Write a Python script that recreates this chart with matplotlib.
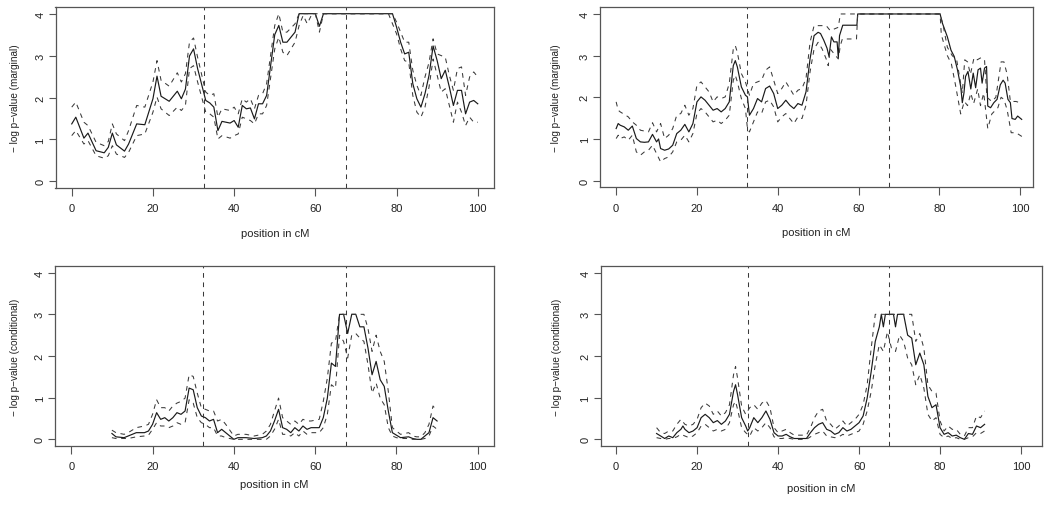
import matplotlib
matplotlib.use("Agg")
import matplotlib.pyplot as plt

plt.rcParams["font.family"] = ["Liberation Sans", "DejaVu Sans"]

# --- top left: marginal, 1 cM grid ---
x1 = [0, 1, 3, 4, 6, 8, 9, 10, 11, 13, 14, 16, 18, 20, 21, 22, 24, 26, 27, 28,
      29, 30, 31, 33, 34, 35, 36, 37, 39, 40, 41, 42, 43, 44, 45, 46, 47, 48, 50, 51,
      52, 53, 55, 56, 57, 58, 59, 60, 61, 62, 78, 79, 80, 81, 82, 83, 84, 85, 86, 87,
      88, 89, 90, 91, 92, 93, 94, 95, 96, 97, 98, 99, 100]
mid1 = [1.37, 1.53, 1.03, 1.15, 0.73, 0.68, 0.81, 1.15, 0.87, 0.72, 0.89, 1.37, 1.35, 1.97, 2.51, 2.03, 1.91, 2.15, 1.97, 2.2,
        2.99, 3.16, 2.69, 1.93, 1.87, 1.77, 1.21, 1.43, 1.39, 1.45, 1.29, 1.81, 1.73, 1.75, 1.49, 1.85, 1.85, 2.05, 3.5, 3.72,
        3.32, 3.32, 3.56, 4, 4, 4, 4, 4, 3.7, 4, 4, 4, 3.68, 3.32, 3.04, 3.08, 2.33, 1.97, 1.77, 2.09,
        2.53, 3.23, 2.88, 2.45, 2.65, 2.25, 1.81, 2.17, 2.17, 1.61, 1.89, 1.93, 1.85]
up1 = [1.77, 1.89, 1.41, 1.33, 0.93, 0.85, 0.95, 1.37, 1.13, 0.97, 1.21, 1.81, 1.77, 2.37, 2.88, 2.41, 2.27, 2.59, 2.37, 2.57,
       3.32, 3.42, 2.96, 2.13, 2.05, 2.09, 1.53, 1.73, 1.69, 1.77, 1.61, 1.97, 1.89, 1.97, 1.73, 2.05, 2.09, 2.33, 3.72, 4,
       3.56, 3.56, 3.76, 4, 4, 4, 4, 4, 4, 4, 4, 4, 3.8, 3.56, 3.32, 3.32, 2.65, 2.29, 2.05, 2.49,
       2.84, 3.4, 3.04, 3.0, 2.96, 2.53, 2.17, 2.69, 2.73, 2.05, 2.49, 2.61, 2.49]
lo1 = [1.09, 1.21, 0.89, 0.97, 0.61, 0.55, 0.61, 0.85, 0.65, 0.57, 0.69, 1.09, 1.13, 1.65, 2.01, 1.73, 1.57, 1.77, 1.69, 1.81,
       2.69, 2.76, 2.37, 1.65, 1.61, 1.53, 1.01, 1.09, 1.03, 1.09, 1.13, 1.53, 1.49, 1.45, 1.37, 1.61, 1.61, 1.81, 3.16, 3.44,
       3.08, 3.0, 3.32, 3.72, 3.96, 3.76, 3.96, 4, 3.56, 4, 4, 3.76, 3.52, 3.16, 2.88, 2.84, 2.05, 1.65, 1.53, 1.77,
       2.25, 2.92, 2.53, 2.13, 2.21, 1.81, 1.41, 1.89, 1.65, 1.33, 1.53, 1.41, 1.41]

# --- top right: marginal, fine grid ---
x2_mid = [0, 0.5, 1, 2, 3, 4, 5, 6, 7, 8, 9, 10, 10.5, 11, 12, 13, 14, 15, 16, 17,
          18, 19, 20, 21, 22, 23, 24, 25, 26, 27, 28, 29, 29.5, 30, 31, 32, 32.5, 33, 34, 35,
          36, 37, 38, 39, 40, 41, 42, 43, 44, 45, 46, 47, 48, 49, 50, 50.6, 51.4, 52.2, 52.7, 53.3,
          53.9, 54.7, 55.0, 55.3, 56.1, 59.6, 59.8, 80.2, 80.8, 82.0, 82.9, 83.7, 84.5, 85.3, 85.7, 86.1, 86.5, 87.1, 87.8, 88.4,
          89.0, 89.6, 90.2, 90.6, 91.2, 91.7, 92.0, 92.7, 93.5, 94.3, 95.1, 95.8, 96.3, 97.0, 97.6, 98.0, 98.8, 99.4, 100.4]
mid2 = [1.25, 1.37, 1.33, 1.29, 1.21, 1.31, 1.01, 0.93, 0.92, 0.93, 1.11, 0.93, 1.0, 0.77, 0.73, 0.76, 0.85, 1.13, 1.21, 1.35,
        1.17, 1.37, 1.89, 2.01, 1.93, 1.81, 1.69, 1.73, 1.65, 1.73, 1.89, 2.76, 2.88, 2.73, 2.25, 2.05, 2.01, 1.57, 1.73, 1.97,
        1.89, 2.21, 2.27, 2.09, 1.73, 1.81, 1.93, 1.81, 1.73, 1.85, 1.81, 2.13, 2.92, 3.48, 3.56, 3.53, 3.37, 3.18, 2.98, 3.45,
        3.33, 3.33, 2.95, 3.48, 3.73, 3.73, 4, 4, 3.77, 3.45, 3.13, 2.98, 2.66, 2.26, 1.87, 2.1, 2.5, 2.62, 2.2, 2.58,
        2.23, 2.66, 2.7, 2.34, 2.7, 2.74, 1.79, 1.75, 1.87, 1.95, 2.3, 2.41, 2.34, 1.95, 1.87, 1.49, 1.47, 1.55, 1.47]
x2_up = [0, 0.5, 1, 3, 4, 5, 6, 8, 9, 10, 11, 12, 13, 14, 15, 16, 17, 18, 19, 20,
         21, 22, 23, 24, 25, 26, 27, 28, 29, 29.5, 30, 31, 32, 33, 34, 35, 36, 37, 38, 39,
         40, 41, 42, 43, 44, 45, 46, 47, 48, 49, 50, 52, 53, 54, 55, 55.5, 80.2, 81.0, 82.0, 83.2,
         84.3, 85.0, 85.7, 86.3, 87.0, 87.7, 88.6, 89.4, 90.3, 91.2, 91.8, 93.0, 94.0, 95.3, 96.0, 96.8, 97.6, 99.0, 100.6]
up2 = [1.89, 1.69, 1.65, 1.53, 1.41, 1.33, 1.21, 1.17, 1.39, 1.17, 1.37, 1.01, 1.09, 1.25, 1.57, 1.61, 1.81, 1.57, 1.73, 2.29,
       2.37, 2.25, 2.13, 1.89, 2.01, 1.97, 2.01, 2.33, 3.16, 3.24, 3.08, 2.57, 2.37, 2.05, 2.33, 2.37, 2.41, 2.65, 2.73, 2.41,
       2.09, 2.21, 2.37, 2.21, 2.05, 2.17, 2.21, 2.45, 3.32, 3.72, 3.72, 3.72, 3.6, 3.64, 3.68, 4, 4, 3.7, 3.2, 3.0,
       2.9, 2.5, 2.1, 2.9, 2.85, 2.55, 2.95, 2.9, 2.95, 2.9, 2.0, 1.9, 2.0, 2.85, 2.85, 2.55, 1.9, 1.9, 1.85]
x2_lo = [0, 0.5, 1, 2, 3, 4, 5, 6, 7, 8, 9, 10, 11, 12, 13, 14, 15, 16, 17, 18,
         19, 20, 21, 22, 23, 24, 25, 26, 27, 28, 29, 29.5, 30, 31, 32, 32.5, 33, 34, 35, 36,
         37, 38, 39, 40, 41, 42, 43, 44, 45, 46, 47, 48, 49, 50, 51, 52, 52.5, 53, 54, 55,
         55.5, 56, 59.5, 59.8, 80.2, 80.5, 82.0, 83.0, 84.0, 85.3, 86.2, 87.0, 87.8, 88.5, 89.5, 90.2, 91.0, 92.0, 93.0, 94.5,
         95.3, 96.0, 96.8, 97.8, 99.0, 100.6]
lo2 = [1.01, 1.09, 1.01, 1.05, 0.97, 1.09, 0.69, 0.61, 0.69, 0.73, 0.85, 0.65, 0.45, 0.53, 0.57, 0.69, 0.93, 0.97, 1.09, 0.93,
       1.13, 1.61, 1.73, 1.65, 1.53, 1.41, 1.45, 1.37, 1.45, 1.57, 2.41, 2.53, 2.37, 1.97, 1.73, 1.25, 1.17, 1.41, 1.65, 1.61,
       1.89, 1.93, 1.77, 1.41, 1.53, 1.61, 1.49, 1.37, 1.53, 1.49, 1.81, 2.61, 3.16, 3.32, 3.16, 2.92, 2.76, 3.16, 3.04, 2.92,
       3.24, 3.4, 3.4, 4, 4, 3.5, 3.0, 2.8, 2.3, 1.6, 1.9, 1.8, 2.1, 1.85, 2.2, 1.8, 2.1, 1.25, 1.6, 1.75,
       2.0, 1.95, 1.7, 1.15, 1.15, 1.05]

# --- bottom left: conditional, 1 cM grid ---
x3 = [10, 11, 13, 14, 16, 18, 19, 20, 21, 22, 23, 24, 25, 26, 27, 28, 29, 30, 31, 32,
      33, 34, 35, 36, 37, 38, 40, 41, 43, 45, 47, 48, 49, 50, 51, 52, 53, 54, 55, 56,
      57, 58, 59, 61, 62, 63, 64, 65, 66, 67, 68, 69, 70, 71, 72, 73, 74, 75, 76, 77,
      78, 79, 80, 81, 83, 84, 85, 86, 87, 88, 89, 90]
mid3 = [0.14, 0.06, 0.04, 0.08, 0.16, 0.16, 0.2, 0.36, 0.64, 0.48, 0.52, 0.44, 0.52, 0.64, 0.6, 0.68, 1.23, 1.19, 0.76, 0.56,
        0.52, 0.44, 0.48, 0.16, 0.24, 0.16, 0.0, 0.04, 0.04, 0.02, 0.04, 0.08, 0.2, 0.44, 0.72, 0.28, 0.24, 0.16, 0.28, 0.2,
        0.32, 0.24, 0.28, 0.28, 0.52, 0.99, 1.83, 1.75, 3.0, 3.0, 2.54, 3.0, 3.0, 2.7, 2.7, 2.19, 1.55, 1.87, 1.43, 1.27,
        0.68, 0.16, 0.1, 0.04, 0.06, 0.02, 0.0, 0.0, 0.08, 0.16, 0.52, 0.44]
up3 = [0.22, 0.16, 0.12, 0.16, 0.28, 0.32, 0.36, 0.6, 0.95, 0.76, 0.76, 0.68, 0.8, 0.87, 0.91, 0.99, 1.55, 1.51, 1.11, 0.76,
       0.72, 0.68, 0.68, 0.44, 0.48, 0.36, 0.08, 0.12, 0.12, 0.08, 0.12, 0.2, 0.36, 0.68, 0.99, 0.52, 0.44, 0.36, 0.44, 0.36,
       0.48, 0.44, 0.44, 0.48, 0.91, 1.47, 2.31, 2.35, 3.0, 3.0, 3.0, 3.0, 3.0, 3.0, 3.0, 2.66, 2.11, 2.5, 2.11, 1.87,
       1.15, 0.28, 0.2, 0.12, 0.16, 0.08, 0.06, 0.06, 0.16, 0.36, 0.8, 0.68]
lo3 = [0.04, 0.02, 0.02, 0.02, 0.06, 0.08, 0.1, 0.24, 0.4, 0.32, 0.32, 0.28, 0.32, 0.4, 0.36, 0.4, 0.95, 0.87, 0.52, 0.4,
       0.36, 0.28, 0.28, 0.08, 0.08, 0.04, 0.0, 0.0, 0.0, 0.0, 0.0, 0.0, 0.08, 0.24, 0.48, 0.12, 0.12, 0.08, 0.16, 0.08,
       0.2, 0.12, 0.16, 0.16, 0.28, 0.6, 1.31, 1.23, 2.5, 2.35, 1.95, 2.5, 2.54, 2.43, 2.35, 1.79, 1.11, 1.35, 0.99, 0.83,
       0.28, 0.08, 0.04, 0.02, 0.02, 0.0, 0.0, 0.0, 0.02, 0.08, 0.32, 0.24]

# --- bottom right: conditional, fine grid ---
x4_mid = [10, 11, 12, 13, 14, 15, 16, 16.5, 17, 18, 19, 20, 21, 22, 23, 24, 25, 26, 27, 28,
          29, 29.5, 30, 31, 32, 32.5, 33, 34, 35, 36, 37, 38, 39, 40, 41, 42, 43, 44, 46, 47,
          48, 49, 50, 51, 52, 53, 54, 55, 56, 57, 58, 59, 60, 61, 62, 63, 64, 65, 65.5, 66,
          66.5, 67.5, 68.5, 69, 69.5, 71, 72, 73, 74, 75, 76, 77, 78, 79, 80, 81, 82, 83, 84, 85,
          86, 87, 88, 89, 90, 91]
mid4 = [0.14, 0.08, 0.02, 0.08, 0.04, 0.16, 0.24, 0.32, 0.24, 0.16, 0.2, 0.28, 0.52, 0.6, 0.52, 0.4, 0.45, 0.36, 0.44, 0.6,
        1.15, 1.31, 1.07, 0.52, 0.32, 0.2, 0.28, 0.52, 0.4, 0.52, 0.68, 0.48, 0.16, 0.08, 0.08, 0.12, 0.06, 0.02, 0.02, 0.02,
        0.16, 0.28, 0.36, 0.4, 0.24, 0.2, 0.12, 0.16, 0.28, 0.2, 0.24, 0.32, 0.4, 0.56, 0.99, 1.63, 2.35, 2.7, 3.0, 2.7,
        3.0, 3.0, 3.0, 2.7, 3.0, 3.0, 2.5, 2.43, 1.79, 2.07, 1.79, 1.03, 0.76, 0.83, 0.28, 0.12, 0.16, 0.08, 0.1, 0.04,
        0.0, 0.14, 0.12, 0.32, 0.28, 0.36]
x4_band = [10, 11, 12, 13, 14, 15, 16, 17, 18, 19, 20, 21, 22, 23, 24, 25, 26, 27, 28, 29,
           29.5, 30, 31, 32, 33, 34, 35, 36, 37, 38, 39, 40, 41, 42, 43, 44, 47, 48, 49, 50,
           51, 52, 53, 54, 55, 56, 57, 58, 59, 60, 61, 62, 63, 64, 65, 66, 67, 68, 69, 70,
           71, 72, 73, 74, 75, 76, 77, 78, 79, 80, 81, 82, 83, 84, 85, 86, 87, 88, 89, 90, 91]
up4 = [0.28, 0.16, 0.14, 0.2, 0.2, 0.36, 0.48, 0.36, 0.32, 0.36, 0.48, 0.76, 0.87, 0.8, 0.6, 0.68, 0.56, 0.64, 0.83, 1.55,
       1.75, 1.47, 0.8, 0.6, 0.76, 0.83, 0.72, 0.87, 0.93, 0.76, 0.28, 0.16, 0.2, 0.24, 0.16, 0.1, 0.1, 0.28, 0.52, 0.68,
       0.72, 0.44, 0.36, 0.24, 0.32, 0.44, 0.32, 0.4, 0.48, 0.6, 0.83, 1.31, 2.19, 3.0, 3.0, 3.0, 3.0, 3.0, 3.0, 3.0,
       3.0, 3.0, 3.0, 2.35, 2.54, 2.19, 1.31, 1.15, 1.11, 0.44, 0.2, 0.32, 0.24, 0.24, 0.12, 0.08, 0.28, 0.28, 0.56, 0.52, 0.68]
lo4 = [0.04, 0.02, 0.0, 0.02, 0.02, 0.06, 0.12, 0.08, 0.04, 0.08, 0.16, 0.32, 0.36, 0.28, 0.2, 0.24, 0.2, 0.24, 0.4, 0.83,
       0.91, 0.72, 0.28, 0.16, 0.08, 0.28, 0.2, 0.28, 0.4, 0.28, 0.06, 0.02, 0.02, 0.04, 0.02, 0.0, 0.0, 0.06, 0.12, 0.16,
       0.2, 0.08, 0.06, 0.04, 0.06, 0.12, 0.08, 0.12, 0.16, 0.2, 0.36, 0.68, 1.15, 1.79, 2.27, 2.11, 2.58, 2.19, 2.11, 2.5,
       2.35, 1.95, 1.79, 1.31, 1.55, 1.23, 0.6, 0.44, 0.52, 0.12, 0.04, 0.08, 0.02, 0.04, 0.0, 0.0, 0.04, 0.06, 0.16, 0.14, 0.2]

markers = [32.5, 67.5]
xticks = [0, 20, 40, 60, 80, 100]
yticks = [0, 1, 2, 3, 4]

W, H = 1050, 506
fig = plt.figure(figsize=(W / 100, H / 100), dpi=100)

# pixel boxes: left, right, top, bottom ; xlim ; label positions (axes fraction)
panels = [
    dict(box=(55.5, 494, 8, 189), xlim=(-4, 104), ylab="− log p−value (marginal)", xl=-0.221, yl=-0.092,
         series=[(x1, mid1, "-"), (x1, up1, "--"), (x1, lo1, "--")]),
    dict(box=(600, 1033, 8.3, 188.3), xlim=(-4, 103.2), ylab="− log p−value (marginal)", xl=-0.221, yl=-0.102,
         series=[(x2_mid, mid2, "-"), (x2_up, up2, "--"), (x2_lo, lo2, "--")]),
    dict(box=(55, 494, 267, 447), xlim=(-4, 104), ylab="− log p−value (conditional)", xl=-0.183, yl=-0.091,
         series=[(x3, mid3, "-"), (x3, up3, "--"), (x3, lo3, "--")]),
    dict(box=(600.7, 1041.7, 267, 447), xlim=(-3.8, 105.1), ylab="− log p−value (conditional)", xl=-0.205, yl=-0.1,
         series=[(x4_mid, mid4, "-"), (x4_band, up4, "--"), (x4_band, lo4, "--")]),
]

for p in panels:
    l, r, t, b = p["box"]
    ax = fig.add_axes([l / W, 1 - b / H, (r - l) / W, (b - t) / H])
    for xs, ys, st in p["series"]:
        if st == "-":
            ax.plot(xs, ys, color="#1a1a1a", lw=0.85)
        else:
            ax.plot(xs, ys, color="#3a3a3a", lw=0.75, linestyle=(0, (4.5, 4.5)))
    for m in markers:
        ax.axvline(m, color="#3a3a3a", lw=0.75, linestyle=(0, (4.5, 4.5)))
    ax.set_xlim(*p["xlim"])
    ax.set_ylim(-0.16, 4.16)
    ax.set_xticks(xticks)
    ax.set_yticks(yticks)
    for s in ax.spines.values():
        s.set_color("#555555")
        s.set_linewidth(0.9)
    ax.tick_params(axis="x", length=5.5, width=0.8, color="#555555", labelsize=8, pad=5.5, labelcolor="#222222")
    ax.tick_params(axis="y", length=4.8, width=0.8, color="#555555", labelsize=8, pad=2.5, labelcolor="#222222")
    for lab in ax.get_yticklabels():
        lab.set_rotation(90)
        lab.set_va("center")
    ax.set_xlabel("position in cM", fontsize=8, color="#222222")
    ax.xaxis.set_label_coords(0.5, p["xl"])
    ax.set_ylabel(p["ylab"], fontsize=7.2, color="#222222", va="center")
    ax.yaxis.set_label_coords(p["yl"], 0.5)

fig.savefig("out.png", dpi=100)
